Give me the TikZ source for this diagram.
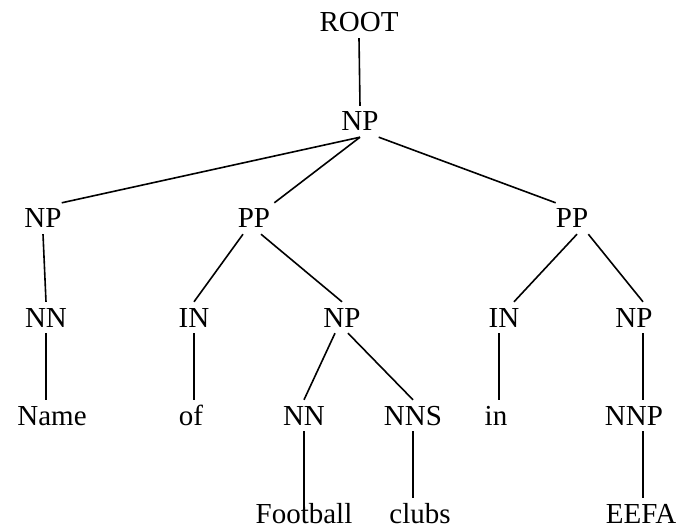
\documentclass[tikz,border=0pt]{standalone}
\usepackage{fontspec}
\setmainfont{Liberation Serif}

\begin{document}
\begin{tikzpicture}[yscale=-1,x=1pt,y=1pt]
		\tikzstyle{LABEL} = [anchor=base, inner xsep=0pt, inner ysep=6pt, text height=19pt, text depth=0pt, font=\fontsize{29}{34}\selectfont]
		\tikzstyle{phrase} = [LABEL]
		\tikzstyle{word} = [LABEL]
		\tikzstyle{branch} = [line width=1.6pt]

		\useasboundingbox (0,0) rectangle (680,529);

		\node[phrase] (root) at 	(359, 32) {ROOT};
		\node[phrase] (npTop) at 	(360, 131) {NP};

		\node[phrase] (npName) at 	(43, 228) {NP};
		\node[phrase] (ppOf) at 	(254, 228) {PP};
		\node[phrase] (ppIn) at 	(572, 228) {PP};

		\node[phrase] (nnName) at 	(46, 327) {NN};
		\node[phrase] (inOf) at 	(194, 327) {IN};
		\node[phrase] (npClubs) at 	(342, 327) {NP};
		\node[phrase] (inIn) at 	(504, 327) {IN};
		\node[phrase] (npEefa) at 	(634, 327) {NP};

		\node[word] (wName) at 		(52, 425) {Name};
		\node[word] (wOf) at 		(191, 425) {of};
		\node[phrase] (nnFoot) at 	(304, 425) {NN};
		\node[phrase] (nnsClubs) at (413, 425) {NNS};
		\node[word] (wIn) at 		(496, 425) {in};
		\node[phrase] (nnpEefa) at 	(634, 425) {NNP};

		\node[word] (wFoot) at 		(304, 523) {Football};
		\node[word] (wClubs) at 	(420, 523) {clubs};
		\node[word] (wEefa) at 		(641, 523) {EEFA};

		% top of the tree
		\draw[branch] (root.south) -- (npTop.north);
		\draw[branch] (npTop.south) -- (npName.north east);
		\draw[branch] (npTop.south) -- ([xshift=4pt]ppOf.north east);
		\draw[branch] (npTop.south east) -- (ppIn.north west);

		% left part
		\draw[branch] (npName.south) -- (nnName.north);
		\draw[branch] (nnName.south) -- (nnName.south |- wName.north);

		% of Football clubs
		\draw[branch] ([xshift=-11pt]ppOf.south) -- (inOf.north);
		\draw[branch] ([xshift=7pt]ppOf.south) -- (npClubs.north);
		\draw[branch] (inOf.south) -- (inOf.south |- wOf.north);
		\draw[branch] ([xshift=-7pt]npClubs.south) -- (nnFoot.north);
		\draw[branch] ([xshift=6pt]npClubs.south) -- (nnsClubs.north);
		\draw[branch, shorten >=-12pt] (nnFoot.south) -- (wFoot.north);
		\draw[branch] (nnsClubs.south) -- (nnsClubs.south |- wClubs.north);

		% in EEFA
		\draw[branch] ([xshift=5pt]ppIn.south) -- ([xshift=10pt]inIn.north);
		\draw[branch] (ppIn.south east) -- ([xshift=9pt]npEefa.north);
		\draw[branch] ([xshift=-5pt]inIn.south) -- ([xshift=-5pt]inIn.south |- wIn.north);
		\draw[branch] ([xshift=9pt]npEefa.south) -- ([xshift=9pt]nnpEefa.north);
		\draw[branch] ([xshift=9pt]nnpEefa.south) -- ([xshift=2pt]wEefa.north);

\end{tikzpicture}
\end{document}
